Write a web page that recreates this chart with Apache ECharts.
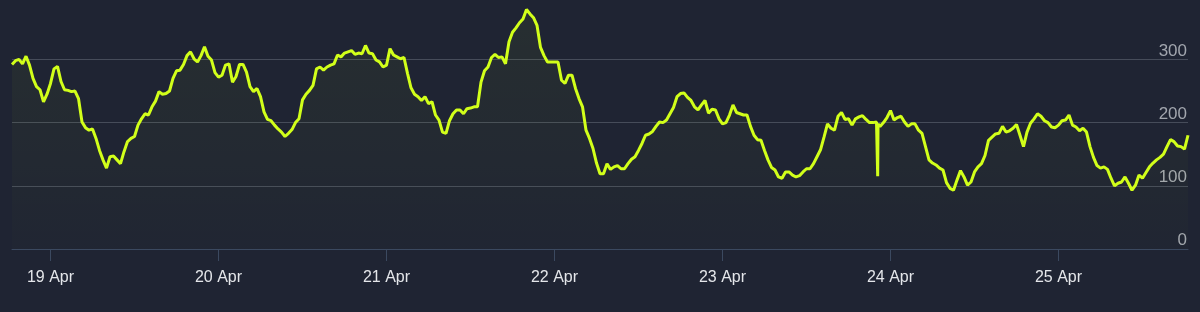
<!DOCTYPE html>
<html>
<head>
<meta charset="utf-8">
<script src="https://cdn.jsdelivr.net/npm/echarts@6/dist/echarts.min.js"></script>
<style>
  html, body { margin: 0; padding: 0; background: #1f2433; }
  #main { width: 1200px; height: 312px; }
</style>
</head>
<body>
<div id="main"></div>
<script>
// hours are counted from 19 Apr 00:00, first sample at 18 Apr 18:30, one every half hour
var startHour = -5.5;
var stepHours = 0.5;
var values = [
  292, 298, 300, 293, 305, 291, 270, 257, 252, 233,
  245, 262, 285, 289, 265, 252, 251, 249, 250, 238,
  201, 192, 188, 190, 175, 156, 141, 128, 146, 147,
  141, 135, 154, 170, 175, 178, 196, 206, 214, 212,
  225, 234, 249, 245, 246, 250, 270, 282, 283, 292,
  306, 312, 301, 296, 306, 320, 305, 299, 279, 272,
  275, 291, 293, 264, 273, 292, 292, 280, 257, 249,
  254, 241, 217, 205, 203, 196, 190, 185, 178, 183,
  189, 200, 206, 236, 245, 251, 259, 285, 288, 283,
  288, 291, 293, 307, 304, 310, 312, 314, 308, 310,
  309, 322, 310, 309, 299, 296, 288, 291, 317, 307,
  304, 301, 303, 278, 255, 245, 241, 235, 241, 230,
  233, 212, 204, 185, 183, 203, 214, 220, 220, 214,
  222, 223, 225, 225, 264, 282, 288, 303, 308, 303,
  304, 293, 328, 343, 350, 358, 364, 379, 372, 366,
  354, 319, 306, 296, 296, 296, 296, 267, 262, 275,
  275, 254, 238, 225, 188, 175, 159, 136, 119, 119,
  135, 126, 130, 132, 127, 127, 135, 142, 146, 156,
  167, 180, 182, 186, 194, 201, 200, 204, 214, 224,
  241, 246, 247, 240, 235, 225, 220, 228, 235, 215,
  221, 220, 206, 198, 200, 212, 228, 216, 214, 212,
  212, 194, 180, 173, 172, 156, 141, 129, 125, 114,
  112, 122, 122, 117, 114, 116, 122, 127, 127, 135,
  146, 157, 177, 198, 191, 188, 210, 216, 205, 206,
  196, 206, 209, 211, 205, 200, 200, 201, 194, 200,
  208, 219, 204, 208, 210, 201, 194, 198, 198, 188,
  183, 162, 141, 136, 133, 128, 125, 105, 96, 93,
  109, 124, 114, 101, 106, 122, 130, 135, 148, 172,
  177, 182, 183, 194, 185, 187, 191, 197, 180, 162,
  185, 199, 206, 214, 210, 203, 200, 193, 192, 196,
  203, 204, 212, 196, 193, 187, 191, 185, 162, 145,
  132, 128, 130, 126, 112, 100, 104, 106, 114, 104,
  93, 101, 117, 112, 121, 130, 136, 141, 145, 150,
  162, 173, 170, 163, 162, 158, 180
];
// short dip on 24 Apr
var spikeHours = [118.12, 118.17, 118.22];
var spikeValues = [199, 115, 198];

var dayTicks = [0, 24, 48, 72, 96, 120, 144];
var dayLabels = ['19 Apr', '20 Apr', '21 Apr', '22 Apr', '23 Apr', '24 Apr', '25 Apr'];
var yTicks = [0, 100, 200, 300];

var points = values.map(function (v, i) { return [startHour + i * stepHours, v]; });
spikeHours.forEach(function (h, i) { points.push([h, spikeValues[i]]); });
points.sort(function (a, b) { return a[0] - b[0]; });

var myChart = echarts.init(document.getElementById('main'));
var option = {
  backgroundColor: '#1f2433',
  animation: false,
  grid: { left: 12, right: 12, top: 0, bottom: 63, containLabel: false },
  xAxis: {
    type: 'value',
    min: startHour,
    max: startHour + (values.length - 1) * stepHours,
    axisLine: { show: true, lineStyle: { color: '#3b4960', width: 1 } },
    axisTick: { show: true, length: 12, customValues: dayTicks, lineStyle: { color: '#3b4960' } },
    axisLabel: {
      customValues: dayTicks,
      margin: 21,
      color: '#e4e6ea',
      fontSize: 16,
      fontFamily: 'Liberation Sans, Arial, sans-serif',
      formatter: function (v) { return dayLabels[dayTicks.indexOf(v)]; }
    },
    splitLine: { show: false }
  },
  yAxis: {
    type: 'value',
    position: 'right',
    min: 0,
    max: 394,
    interval: 100,
    axisLine: { show: false },
    axisTick: { show: false },
    axisLabel: {
      inside: true,
      margin: 1,
      showMaxLabel: false,
      verticalAlign: 'bottom',
      lineHeight: 17,
      color: '#a2a6ae',
      fontSize: 17,
      fontFamily: 'Liberation Sans, Arial, sans-serif',
      formatter: function (v) { return yTicks.indexOf(v) >= 0 ? String(v) : ''; }
    },
    splitLine: { show: true, showMaxLine: false, lineStyle: { color: '#464c5a', width: 1 } }
  },
  series: [{
    type: 'line',
    data: points,
    showSymbol: false,
    smooth: false,
    lineStyle: { color: '#d2ff1a', width: 3 },
    areaStyle: {
      color: new echarts.graphic.LinearGradient(0, 0, 0, 1, [
        { offset: 0, color: 'rgba(200,255,0,0.07)' },
        { offset: 1, color: 'rgba(200,255,0,0.01)' }
      ])
    }
  }]
};
myChart.setOption(option);
</script>
</body>
</html>
